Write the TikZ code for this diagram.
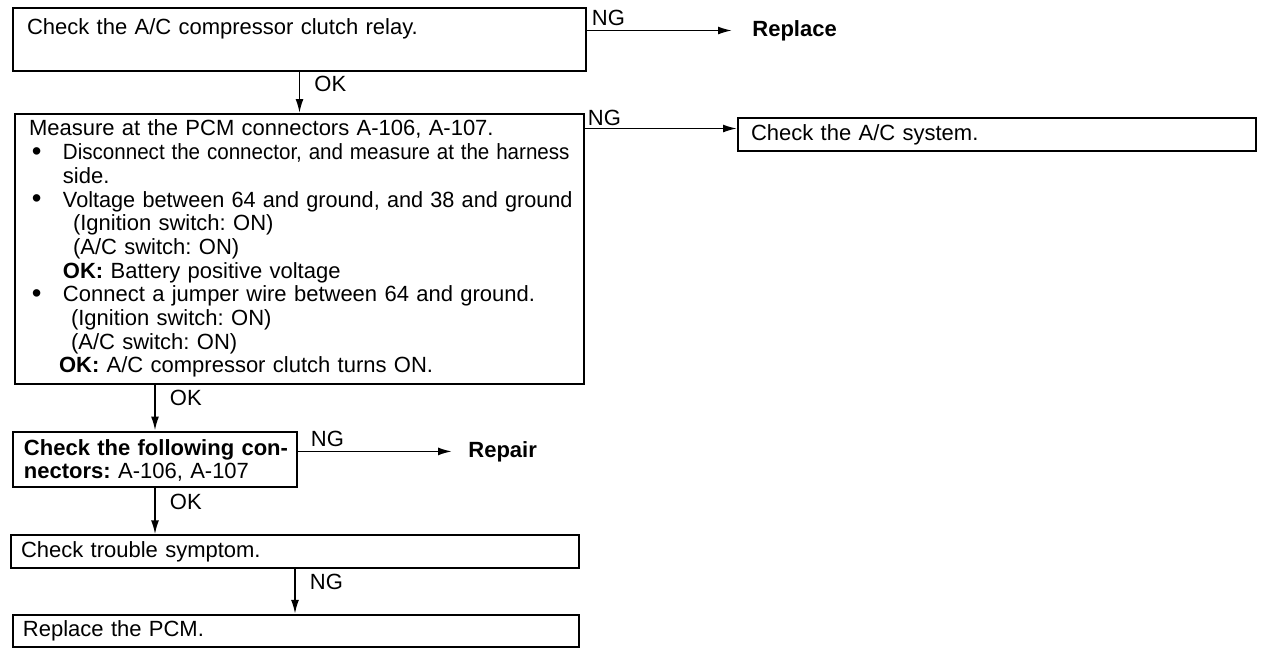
\documentclass[tikz,border=0pt]{standalone}
\usepackage{fontspec}
\setmainfont{Liberation Sans}
\usetikzlibrary{arrows.meta, positioning}

\newcommand{\bul}{\makebox[17pt][l]{\hspace{1.5pt}\raisebox{-0.4pt}{\scalebox{1.25}{\textbullet}}}}

\begin{document}
\frenchspacing
\begin{tikzpicture}[
    x=0.5pt, y=-0.5pt,
    font=\fontsize{11}{11.85}\selectfont,
    box/.style={rectangle, draw, line width=1pt, inner xsep=6pt, inner ysep=3pt, align=left, anchor=north west},
    result/.style={inner sep=1pt, font=\fontsize{11}{11.85}\selectfont\bfseries},
    lbl/.style={inner sep=2pt},
    flow/.style={-{Latex[length=7pt, width=4pt]}, line width=0.9pt}
]
    \useasboundingbox (0,0) rectangle (1280,654);

    % main column
    \node[box, inner xsep=7pt, text width=272.5pt, text height=10pt, text depth=15.5pt] (relay) at (12,7) {Check the A/C compressor clutch relay.};
    \node[box, inner xsep=7pt, text width=270.5pt, below=20.5pt of relay.south west, anchor=north west, xshift=1pt] (pcm) {%
        Measure at the PCM connectors A-106, A-107.\\
        \bul\scalebox{0.935}[1]{Disconnect the connector, and measure at the harness}\\
        \hspace*{17pt}side.\\
        \bul\scalebox{0.985}[1]{Voltage between 64 and ground, and 38 and ground}\\
        \hspace*{22pt}(Ignition switch: ON)\\
        \hspace*{22pt}(A/C switch: ON)\\
        \hspace*{17pt}\textbf{OK:} Battery positive voltage\\
        \bul Connect a jumper wire between 64 and ground.\\
        \hspace*{21pt}(Ignition switch: ON)\\
        \hspace*{21pt}(A/C switch: ON)\\
        \hspace*{15pt}\textbf{OK:} A/C compressor clutch turns ON.};
    \node[box, inner xsep=5.5pt, text width=131pt, font=\fontsize{11}{11.5}\selectfont, text height=9pt, below=23pt of pcm.south west, anchor=north west, xshift=-1pt] (conn) {%
        \makebox[\linewidth][s]{\bfseries Check the following con-}\\
        \textbf{nectors:} A-106, A-107};
    \node[box, inner xsep=5pt, text width=274pt, minimum height=16pt, below=23pt of conn.south west, anchor=north west, xshift=-1pt] (symptom) {Check trouble symptom.};
    \node[box, inner xsep=5pt, text width=273pt, minimum height=16pt, below=22.5pt of symptom.south west, anchor=north west, xshift=1pt] (newpcm) {Replace the PCM.};

    % NG side
    \node[box, inner xsep=6.5pt, text width=246pt, minimum height=16.5pt, right=76pt of pcm.north east, anchor=north west, yshift=-2pt] (acsys) {Check the A/C system.};
    \node[result, right=81.5pt of relay.east, yshift=4.5pt] (replace) {Replace};
    \node[result, right=84pt of conn.east, yshift=4pt] (repair) {Repair};
    \coordinate (acin) at ([yshift=3pt]acsys.west);

    \draw[flow, shorten >=9pt] (relay.east |- replace.west) -- node[lbl, anchor=south west, pos=0] {NG} (replace.west);
    \draw[flow] (relay.south) -- node[lbl, right=5pt, pos=0.3] {OK} (pcm.north -| relay.south);
    \draw[flow] (pcm.east |- acin) -- node[lbl, anchor=south west, pos=0, inner sep=1pt] {NG} (acin);
    \draw[flow] (conn.north |- pcm.south) -- node[lbl, right=5pt, pos=0.3] {OK} (conn.north);
    \draw[flow, shorten >=7pt] (conn.east |- repair.west) -- node[lbl, anchor=south west, pos=0, xshift=4pt] {NG} (repair.west);
    \draw[flow] (conn.south) -- node[lbl, right=5pt, pos=0.3] {OK} (conn.south |- symptom.north);
    \draw[flow] (symptom.south) -- node[lbl, right=5pt, pos=0.3] {NG} (symptom.south |- newpcm.north);
\end{tikzpicture}
\end{document}
